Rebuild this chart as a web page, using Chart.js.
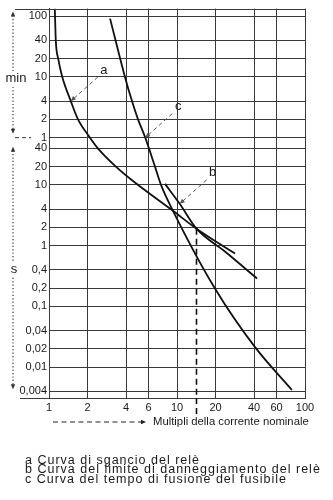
<!DOCTYPE html>
<html>
<head>
<meta charset="utf-8">
<script src="https://cdn.jsdelivr.net/npm/chart.js@4.4.1/dist/chart.umd.min.js"></script>
<style>
    body { margin: 0; background: #fff; }
    #wrap { position: relative; width: 333px; height: 500px; }
    #notes {
        position: absolute; left: 25px; top: 456px;
        font: 12.5px "Liberation Sans", Arial, sans-serif;
        letter-spacing: 1px; line-height: 9.3px; color: #1a1a1a;
        white-space: nowrap;
    }
</style>
</head>
<body>
<div id="wrap">
    <canvas id="chart" width="333" height="500"></canvas>
    <div id="notes"></div>
</div>
<script>
// Axis ticks: x = multiples of rated current, y = time in seconds
const xTickValues = [1, 2, 4, 6, 10, 20, 40, 60, 100];
const yTickValues = [0.004, 0.01, 0.02, 0.04, 0.1, 0.2, 0.4, 1, 2, 4, 10, 20, 40,
                     60, 120, 240, 600, 1200, 2400, 6000];
const yTickLabels = ['0,004', '0,01', '0,02', '0,04', '0,1', '0,2', '0,4', '1', '2', '4', '10', '20', '40',
                     '1', '2', '4', '10', '20', '40', '100'];

// a: relay trip curve
const tripX = [1.11, 1.13, 1.18, 1.27, 1.48, 1.685, 2.09, 2.41, 3.33, 4.53, 9.3, 14.2, 28.4];
const tripY = [8000, 2400, 1200, 600, 240, 120, 60, 40, 20, 11.6, 3.75, 1.9, 0.74];

// b: relay damage limit
const damageX = [8.06, 10.5, 14.2, 23.7, 42.2];
const damageY = [10.4, 4.88, 1.9, 0.8, 0.288];

// c: fuse melting time
const fuseX = [3.0, 3.92, 4.45, 4.96, 5.65, 6.73, 7.5, 9.3, 19.8, 40.7, 79];
const fuseY = [5470, 600, 240, 120, 60, 20, 10, 3.75, 0.197, 0.0213, 0.0042];

// coordination current (dashed vertical)
const crossX = 14.2;
const crossY = 1.9;

// letters pointing at the curves
const calloutLetters = ['a', 'b', 'c'];
const calloutX = [1.48, 10.5, 5.65];
const calloutY = [240, 4.88, 60];

const notes = [
    'a Curva di sgancio del relè',
    'b Curva del limite di danneggiamento del relè',
    'c Curva del tempo di fusione del fusibile'
];
const xTitle = 'Multipli della corrente nominale';

const FONT = '"Liberation Sans", Arial, sans-serif';
const GRID = '#3a3a3a';
const INK = '#111';

document.getElementById('notes').innerHTML = notes.map(n => `<div>${n}</div>`).join('');

const toPoints = (xs, ys) => xs.map((x, i) => ({ x, y: ys[i] }));

function arrowHead(ctx, x, y, angle, size) {
    ctx.save();
    ctx.translate(x, y);
    ctx.rotate(angle);
    ctx.beginPath();
    ctx.moveTo(0, 0);
    ctx.lineTo(-size, -size * 0.45);
    ctx.lineTo(-size, size * 0.45);
    ctx.closePath();
    ctx.fill();
    ctx.restore();
}

function dottedArrow(ctx, x, yTop, yBottom, gapAt, gapHalf) {
    ctx.setLineDash([1.2, 2.2]);
    ctx.beginPath();
    ctx.moveTo(x, yTop + 4);
    ctx.lineTo(x, gapAt - gapHalf);
    ctx.moveTo(x, gapAt + gapHalf);
    ctx.lineTo(x, yBottom - 4);
    ctx.stroke();
    ctx.setLineDash([]);
    arrowHead(ctx, x, yTop, -Math.PI / 2, 5);
    arrowHead(ctx, x, yBottom, Math.PI / 2, 5);
}

const extras = {
    id: 'extras',
    afterDatasetsDraw(chart) {
        const { ctx, chartArea: area, scales: { x, y } } = chart;
        ctx.save();

        // top frame and bottom line running out to the left
        ctx.strokeStyle = GRID;
        ctx.lineWidth = 1;
        ctx.beginPath();
        ctx.moveTo(15, Math.round(area.top) + 0.5);
        ctx.lineTo(area.right, Math.round(area.top) + 0.5);
        ctx.moveTo(20, Math.round(area.bottom) + 0.5);
        ctx.lineTo(area.left, Math.round(area.bottom) + 0.5);
        ctx.stroke();

        // min / s split at 1 minute
        const yMin = y.getPixelForValue(60);
        ctx.setLineDash([4, 3]);
        ctx.beginPath();
        ctx.moveTo(15, yMin);
        ctx.lineTo(31, yMin);
        ctx.stroke();
        ctx.setLineDash([]);

        // unit ranges on the left
        ctx.strokeStyle = '#333';
        ctx.fillStyle = '#333';
        ctx.lineWidth = 1.2;
        const minAt = y.getPixelForValue(600) + 2;
        const sAt = y.getPixelForValue(0.4);
        dottedArrow(ctx, 13, area.top + 3, yMin - 4, minAt, 8);
        dottedArrow(ctx, 13, yMin + 9, y.getPixelForValue(0.004) - 2, sAt, 8);
        ctx.fillStyle = '#1a1a1a';
        ctx.font = '13px ' + FONT;
        ctx.textAlign = 'center';
        ctx.textBaseline = 'middle';
        ctx.fillText('min', 16, minAt);
        ctx.fillText('s', 14, sAt);

        // coordination line continues below the axis
        const xc = x.getPixelForValue(crossX);
        ctx.strokeStyle = INK;
        ctx.lineWidth = 1.6;
        ctx.setLineDash([6, 4]);
        ctx.beginPath();
        ctx.moveTo(xc, area.bottom);
        ctx.lineTo(xc, area.bottom + 17);
        ctx.stroke();

        // callouts a, b, c
        ctx.strokeStyle = '#555';
        ctx.fillStyle = '#555';
        ctx.lineWidth = 1;
        ctx.font = '13px ' + FONT;
        calloutLetters.forEach((letter, i) => {
            const tx = x.getPixelForValue(calloutX[i]);
            const ty = y.getPixelForValue(calloutY[i]);
            const sx = tx + 27, sy = ty - 24;
            const ang = Math.atan2(ty - sy, tx - sx);
            ctx.setLineDash([4, 3]);
            ctx.beginPath();
            ctx.moveTo(sx, sy);
            ctx.lineTo(tx - 4 * Math.cos(ang), ty - 4 * Math.sin(ang));
            ctx.stroke();
            ctx.setLineDash([]);
            arrowHead(ctx, tx, ty, ang, 5);
            ctx.fillStyle = '#1a1a1a';
            ctx.fillText(letter, tx + 33, ty - 31);
            ctx.fillStyle = '#555';
        });

        // x axis title with its dashed arrow
        const ty = area.bottom + 24;
        ctx.strokeStyle = '#222';
        ctx.fillStyle = '#222';
        ctx.setLineDash([5, 3.5]);
        ctx.beginPath();
        ctx.moveTo(53, ty);
        ctx.lineTo(141, ty);
        ctx.stroke();
        ctx.setLineDash([]);
        arrowHead(ctx, 146, ty, 0, 5);
        ctx.fillStyle = '#1a1a1a';
        ctx.font = '11.3px ' + FONT;
        ctx.textAlign = 'left';
        ctx.fillText(xTitle, 153, ty);

        ctx.restore();
    }
};

const curveStyle = {
    borderColor: INK,
    borderWidth: 1.8,
    pointRadius: 0,
    fill: false,
    cubicInterpolationMode: 'monotone'
};

new Chart(document.getElementById('chart'), {
    type: 'line',
    data: {
        datasets: [
            { label: 'a', data: toPoints(tripX, tripY), ...curveStyle },
            { label: 'b', data: toPoints(damageX, damageY), ...curveStyle },
            { label: 'c', data: toPoints(fuseX, fuseY), ...curveStyle },
            {
                label: 'In',
                data: [{ x: crossX, y: crossY }, { x: crossX, y: 0.0031 }],
                borderColor: INK, borderWidth: 1.6, borderDash: [6, 4],
                pointRadius: 0, tension: 0
            }
        ]
    },
    options: {
        responsive: false,
        animation: false,
        devicePixelRatio: 1,
        layout: { padding: { top: 7, right: 28, bottom: 72, left: 0 } },
        plugins: { legend: { display: false }, tooltip: { enabled: false } },
        scales: {
            x: {
                type: 'logarithmic',
                min: 1,
                max: 100,
                afterBuildTicks: s => { s.ticks = xTickValues.map(v => ({ value: v })); },
                afterFit: s => { s.height = 30; },
                ticks: {
                    autoSkip: false, maxRotation: 0, padding: 3,
                    color: '#1a1a1a', font: { family: FONT, size: 11 },
                    callback: v => String(v)
                },
                grid: { color: GRID, lineWidth: 1, drawTicks: false },
                border: { color: GRID, width: 1 }
            },
            y: {
                type: 'logarithmic',
                min: 0.0031,
                max: 8000,
                afterBuildTicks: s => { s.ticks = yTickValues.map(v => ({ value: v })); },
                afterFit: s => { s.width = 49; },
                ticks: {
                    autoSkip: false, padding: 2,
                    color: '#1a1a1a', font: { family: FONT, size: 11 },
                    callback: (v, i) => yTickLabels[i]
                },
                grid: { color: GRID, lineWidth: 1, drawTicks: false },
                border: { color: GRID, width: 1 }
            }
        }
    },
    plugins: [extras]
});
</script>
</body>
</html>
